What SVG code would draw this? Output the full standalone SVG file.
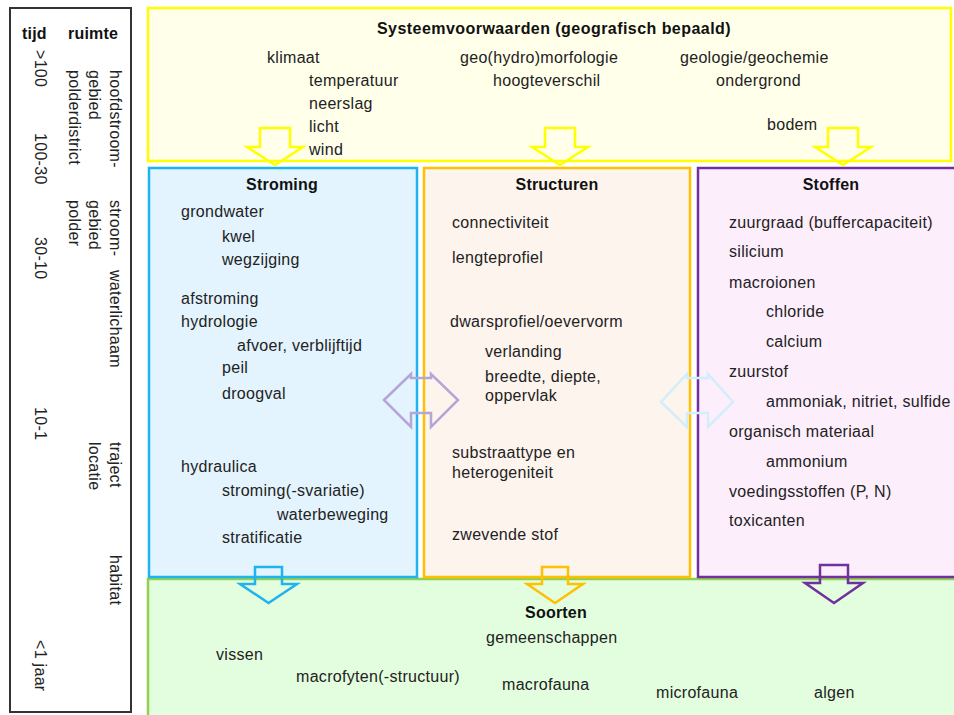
<svg xmlns="http://www.w3.org/2000/svg" width="954" height="715" viewBox="0 0 954 715">
<style>
text{font-family:"Liberation Sans",Arial,sans-serif;font-size:16px;fill:#222;letter-spacing:0.3px}
.b{font-weight:bold;fill:#111;letter-spacing:0.2px}
.c{text-anchor:middle}
.arr{fill:none;stroke-width:2.5;stroke-linejoin:miter}
</style>
<rect width="954" height="715" fill="#fff"/>
<g id="scale">
<rect x="10" y="8" width="121" height="704" fill="#fff" stroke="#333" stroke-width="2"/>
<text class="b" x="22" y="39">tijd</text>
<text class="b" x="68" y="39">ruimte</text>
<text transform="translate(35,50) rotate(90)">&gt;100</text>
<text transform="translate(35,133) rotate(90)">100-30</text>
<text transform="translate(35,237) rotate(90)">30-10</text>
<text transform="translate(35,407) rotate(90)">10-1</text>
<text transform="translate(35,640) rotate(90)">&lt;1 jaar</text>
<text transform="translate(110,70) rotate(90)">hoofdstroom-</text>
<text transform="translate(89,70) rotate(90)">gebied</text>
<text transform="translate(69,70) rotate(90)">polderdistrict</text>
<text transform="translate(110,200) rotate(90)">stroom-</text>
<text transform="translate(89,200) rotate(90)">gebied</text>
<text transform="translate(69,200) rotate(90)">polder</text>
<text transform="translate(110,270) rotate(90)">waterlichaam</text>
<text transform="translate(110,442) rotate(90)">traject</text>
<text transform="translate(89,442) rotate(90)">locatie</text>
<text transform="translate(110,555) rotate(90)">habitat</text>
</g>
<g id="systeemvoorwaarden">
<rect x="148" y="8" width="803" height="153" fill="#FFFFEA" stroke="#FFFF00" stroke-width="2.5"/>
<text class="b c" x="554" y="34" style="letter-spacing:0.45px">Systeemvoorwaarden (geografisch bepaald)</text>
<text x="267" y="63">klimaat</text>
<text x="309" y="86">temperatuur</text>
<text x="309" y="109">neerslag</text>
<text x="309" y="132">licht</text>
<text x="309" y="155">wind</text>
<text x="460" y="63">geo(hydro)morfologie</text>
<text x="493" y="86">hoogteverschil</text>
<text x="680" y="63">geologie/geochemie</text>
<text x="716" y="86">ondergrond</text>
<text x="767" y="130">bodem</text>
</g>
<g id="soorten">
<rect x="148" y="579" width="812" height="140" fill="#E3FEDE" stroke="#92D050" stroke-width="2.5"/>
<text class="b c" x="556" y="618">Soorten</text>
<text x="486" y="643">gemeenschappen</text>
<text x="216" y="660">vissen</text>
<text x="296" y="682">macrofyten(-structuur)</text>
<text x="502" y="690">macrofauna</text>
<text x="656" y="698">microfauna</text>
<text x="814" y="698">algen</text>
</g>
<g id="stroming">
<rect x="149" y="168" width="268" height="409" fill="#E3F4FE" stroke="#1EB4F0" stroke-width="2.5"/>
<text class="b c" x="282" y="190">Stroming</text>
<text x="181" y="217">grondwater</text>
<text x="222" y="242">kwel</text>
<text x="222" y="265">wegzijging</text>
<text x="181" y="304">afstroming</text>
<text x="181" y="327">hydrologie</text>
<text x="237" y="351">afvoer, verblijftijd</text>
<text x="222" y="373">peil</text>
<text x="222" y="399">droogval</text>
<text x="181" y="472">hydraulica</text>
<text x="222" y="496">stroming(-svariatie)</text>
<text x="277" y="520">waterbeweging</text>
<text x="222" y="543">stratificatie</text>
</g>
<g id="structuren">
<rect x="424" y="168" width="266" height="409" fill="#FDF4EE" stroke="#FFC000" stroke-width="2.5"/>
<text class="b c" x="557" y="190">Structuren</text>
<text x="452" y="228">connectiviteit</text>
<text x="452" y="263">lengteprofiel</text>
<text x="450" y="327">dwarsprofiel/oevervorm</text>
<text x="485" y="357">verlanding</text>
<text x="485" y="382">breedte, diepte,</text>
<text x="485" y="401">oppervlak</text>
<text x="452" y="458">substraattype en</text>
<text x="452" y="478">heterogeniteit</text>
<text x="452" y="540">zwevende stof</text>
</g>
<g id="stoffen">
<rect x="698" y="168" width="270" height="409" fill="#FDEEFC" stroke="#7030A0" stroke-width="2.5"/>
<text class="b c" x="831" y="190">Stoffen</text>
<text x="729" y="228">zuurgraad (buffercapaciteit)</text>
<text x="729" y="257">silicium</text>
<text x="729" y="288">macroionen</text>
<text x="766" y="317">chloride</text>
<text x="766" y="347">calcium</text>
<text x="729" y="377">zuurstof</text>
<text x="766" y="407">ammoniak, nitriet, sulfide</text>
<text x="729" y="437">organisch materiaal</text>
<text x="766" y="467">ammonium</text>
<text x="729" y="497">voedingsstoffen (P, N)</text>
<text x="729" y="526">toxicanten</text>
</g>
<g id="connectors">
<path class="arr" stroke="#FFFF00" d="M260,128 H290 V147 H303 L275,165 L247,147 H260 Z"/>
<path class="arr" stroke="#FFFF00" d="M545,128 H575 V147 H588 L560,165 L532,147 H545 Z"/>
<path class="arr" stroke="#FFFF00" d="M828,128 H858 V147 H871 L843,165 L815,147 H828 Z"/>
<path class="arr" stroke="#1EB4F0" d="M255,567 H282 V584 H297 L268.5,603 L240,584 H255 Z"/>
<path class="arr" stroke="#FFC000" d="M542,567 H568 V584 H583 L555,603 L527,584 H542 Z"/>
<path class="arr" stroke="#7030A0" d="M820,565 H848 V583 H863 L834,603 L805,583 H820 Z"/>
<path class="arr" stroke="#B4A7D6" d="M384,400 L411,374 V378 H431 V374 L458,400 L431,427 V413 H411 V427 Z"/>
<path class="arr" stroke="#D2EEFC" d="M661,402 L687,374 V378 H708 V374 L733,402 L708,427 V413 H687 V427 Z"/>
</g>
</svg>
